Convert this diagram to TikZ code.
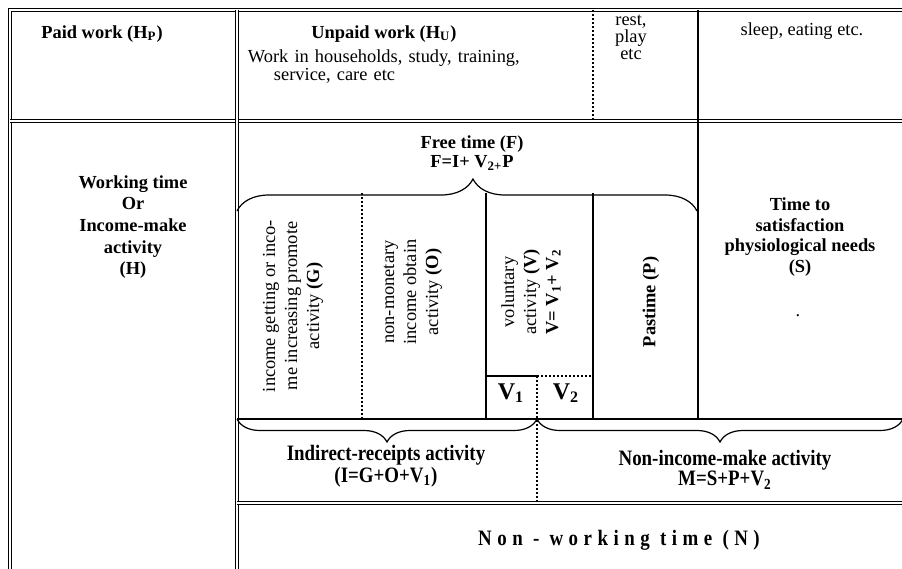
\documentclass[tikz,border=0pt]{standalone}
\usepackage{fontspec}
\setmainfont{Liberation Serif}
\newfontfamily\condfont[FakeStretch=0.86]{Liberation Serif}
\usetikzlibrary{decorations.pathreplacing}
\begin{document}
\begin{tikzpicture}[x=0.5pt,y=-0.5pt,
  every node/.style={inner sep=0pt, font=\fontsize{9.2}{8.5}\selectfont},
  lbl/.style={align=center},
  bl/.style={align=center, font=\fontsize{9.2}{10.8}\selectfont\bfseries},
  rot/.style={align=center, rotate=90, font=\fontsize{9.2}{11}\selectfont},
  cond/.style={align=center, font=\fontsize{11}{11}\selectfont\condfont\bfseries},
  dbl/.style={double, double distance=1pt, line width=0.45pt},
  ln/.style={line width=0.6pt},
  dsh/.style={line width=0.8pt, dash pattern=on 1.2pt off 0.8pt},
  bracetop/.style={line width=0.6pt, decorate, decoration={brace, amplitude=16pt, aspect=0.513}},
  bracebot/.style={line width=0.6pt, decorate, decoration={brace, amplitude=11.5pt}}
]
\useasboundingbox (0,0) rectangle (902,569);
\fill[white] (0,0) rectangle (902,569);
% frame
\draw[dbl] (903,10) -- (10,10) -- (10,570);
\draw[dbl] (10,121) -- (903,121);
\draw[dbl] (237,10) -- (237,570);
\draw[dbl] (237,503) -- (903,503);
% top row dividers
\draw[dsh] (593,10) -- (593,121);
\draw[ln] (698,10) -- (698,121);
% lower grid
\draw[ln] (698,121) -- (698,419);
\draw[dsh] (362,193) -- (362,419);
\draw[ln] (486,193) -- (486,419);
\draw[ln] (593,193) -- (593,419);
\draw[ln] (486,376) -- (537,376);
\draw[dsh] (537,376) -- (593,376);
\draw[dsh] (537,376) -- (537,503);
\draw[ln] (237,419) -- (903,419);
% braces
\draw[bracetop] (237,211) -- (697,211);
\draw[bracebot] (537,419) -- (237,419);
\draw[bracebot] (903,419) -- (537,419);
% top row text
\node[bl] (paid) at (102,34) {Paid work (H\textsubscript{P})};
\node[bl] (unpaid) at (384,34) {Unpaid work (H\textsubscript{U})};
\node[text width=167pt, align=left, font=\fontsize{9.2}{9}\selectfont] (unpaidtxt) at (415,67)
  {\makebox[\linewidth][s]{Work in households, study, training,}\\\hspace*{13pt}service, care etc};
\node[lbl] (rest) at (631,37) {rest,\\play\\etc};
\node (sleep) at (802,31) {sleep, eating etc.};
% lower text
\node[bl] (working) at (133,227) {Working time\\Or\hspace*{14pt}\\Income-make\\activity\\(H)};
\node[bl, font=\fontsize{9.2}{9.5}\selectfont\bfseries] (free) at (472,153) {Free time (F)\\F=I+ V\textsubscript{2+}P};
\node[bl, font=\fontsize{9.2}{10.3}\selectfont\bfseries] (stime) at (800,237) {Time to\\satisfaction\\physiological needs\\(S)};
\node (dot) at (798,316) {.};
\node[rot] (g) at (293,306) {income getting or inco-\\me increasing promote\\activity \textbf{(G)}};
\node[rot] (o) at (413,292) {non-monetary\\income obtain\\activity \textbf{(O)}};
\node[rot] (v) at (531,292) {voluntary\\activity \textbf{(V)}\\\textbf{V= V\textsubscript{1}+ V\textsubscript{2}}};
\node[rot, font=\fontsize{9.2}{10}\selectfont\bfseries] (p) at (651,302) {Pastime (P)};
\node[font=\fontsize{12}{12}\selectfont\bfseries] (v1) at (511,393) {V\textsubscript{1}};
\node[font=\fontsize{12}{12}\selectfont\bfseries] (v2) at (566,393) {V\textsubscript{2}};
\node[cond] (ind) at (386,466) {Indirect-receipts activity\\(I=G+O+V\textsubscript{1})};
\node[cond, font=\fontsize{11}{10}\selectfont\condfont\bfseries] (nonin) at (725,470) {Non-income-make activity\\M=S+P+V\textsubscript{2}};
\node[font=\fontsize{11}{12}\selectfont\condfont\bfseries\addfontfeatures{LetterSpace=25}] (nwt) at (619,540) {Non - working time (N)};
\end{tikzpicture}
\end{document}
